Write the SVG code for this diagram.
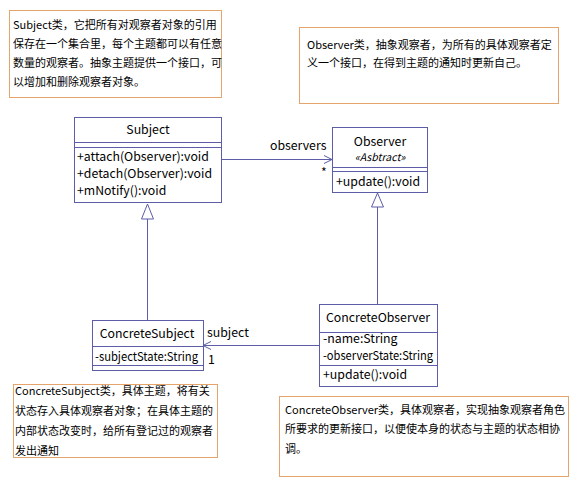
<svg xmlns="http://www.w3.org/2000/svg" width="581" height="484" viewBox="0 0 581 484">
<style>
.note{fill:#fff;stroke:#e4a46c;stroke-width:1}
.cls{fill:#fff;stroke:#5c5ca8;stroke-width:1}
.sep{stroke:#5c5ca8;stroke-width:1}
.edge{stroke:#5c5ca8;stroke-width:1;fill:none}
.tri{fill:#fff;stroke:#5c5ca8;stroke-width:1}
.nt{font-family:"Noto Sans CJK SC","Noto Sans",sans-serif;font-size:11px;fill:#000}
.ct{font-family:"Noto Sans CJK SC","Noto Sans",sans-serif;font-size:12.3px;fill:#000}
.mid{text-anchor:middle}
.st{font-family:"Noto Sans CJK SC","Noto Sans",sans-serif;font-size:10.5px;font-style:italic;fill:#000}
</style>
<rect width="581" height="484" fill="#fff"/>
<g id="note-subject">
<rect class="note" x="9.5" y="10.5" width="212" height="87"/>
<text class="nt" x="13" y="29">Subject类，它把所有对观察者对象的引用</text>
<text class="nt" x="13" y="48">保存在一个集合里，每个主题都可以有任意</text>
<text class="nt" x="13" y="67">数量的观察者。抽象主题提供一个接口，可</text>
<text class="nt" x="13" y="86">以增加和删除观察者对象。</text>
</g>
<g id="note-observer">
<rect class="note" x="299.5" y="27.5" width="259" height="76"/>
<text class="nt" x="307" y="49">Observer类，抽象观察者，为所有的具体观察者定</text>
<text class="nt" x="307" y="67">义一个接口，在得到主题的通知时更新自己。</text>
</g>
<g id="note-concretesubject">
<rect class="note" x="13.5" y="384.5" width="204" height="73"/>
<text class="nt" x="15" y="395">ConcreteSubject类，具体主题，将有关</text>
<text class="nt" x="15" y="415">状态存入具体观察者对象；在具体主题的</text>
<text class="nt" x="15" y="435">内部状态改变时，给所有登记过的观察者</text>
<text class="nt" x="15" y="455">发出通知</text>
</g>
<g id="note-concreteobserver">
<rect class="note" x="279.5" y="396.5" width="289" height="80"/>
<text class="nt" x="285" y="414">ConcreteObserver类，具体观察者，实现抽象观察者角色</text>
<text class="nt" x="285" y="433">所要求的更新接口，以便使本身的状态与主题的状态相协</text>
<text class="nt" x="285" y="453">调。</text>
</g>
<g id="connectors">
<line class="edge" x1="221" y1="159.5" x2="332" y2="159.5"/>
<polyline class="edge" points="324,155.5 332,159.5 324,163.5"/>
<text class="ct" x="270" y="150">observers</text>
<text class="ct" x="321" y="177">*</text>
<line class="edge" x1="147.5" y1="219" x2="147.5" y2="320"/>
<polygon class="tri" points="147.5,204 141.5,219 153.5,219"/>
<line class="edge" x1="377.5" y1="207" x2="377.5" y2="304"/>
<polygon class="tri" points="377.5,193 371.5,207 383.5,207"/>
<line class="edge" x1="203" y1="345.5" x2="319" y2="345.5"/>
<polyline class="edge" points="211,341.5 203,345.5 211,349.5"/>
<text class="ct" x="207" y="337">subject</text>
<text class="ct" x="208" y="364">1</text>
</g>
<g id="Subject">
<rect class="cls" x="74.5" y="117.5" width="147" height="85"/>
<text class="ct mid" x="148" y="134">Subject</text>
<line class="sep" x1="74.5" y1="142.5" x2="221.5" y2="142.5"/>
<line class="sep" x1="74.5" y1="147.5" x2="221.5" y2="147.5"/>
<text class="ct" x="77" y="161">+attach(Observer):void</text>
<text class="ct" x="77" y="178">+detach(Observer):void</text>
<text class="ct" x="77" y="195">+mNotify():void</text>
</g>
<g id="Observer">
<rect class="cls" x="332.5" y="127.5" width="95" height="65"/>
<text class="ct mid" x="380" y="146">Observer</text>
<text class="st mid" x="380" y="161">«Asbtract»</text>
<line class="sep" x1="332.5" y1="167.5" x2="427.5" y2="167.5"/>
<line class="sep" x1="332.5" y1="171.5" x2="427.5" y2="171.5"/>
<text class="ct" x="336" y="186">+update():void</text>
</g>
<g id="ConcreteSubject">
<rect class="cls" x="92.5" y="320.5" width="111" height="50"/>
<text class="ct mid" x="147" y="338">ConcreteSubject</text>
<line class="sep" x1="92.5" y1="346.5" x2="203.5" y2="346.5"/>
<text class="ct" x="95" y="361" textLength="103" lengthAdjust="spacingAndGlyphs">-subjectState:String</text>
<line class="sep" x1="92.5" y1="365.5" x2="203.5" y2="365.5"/>
</g>
<g id="ConcreteObserver">
<rect class="cls" x="319.5" y="304.5" width="118" height="82"/>
<text class="ct mid" x="378" y="322">ConcreteObserver</text>
<line class="sep" x1="319.5" y1="332.5" x2="437.5" y2="332.5"/>
<text class="ct" x="323" y="342.5">-name:String</text>
<text class="ct" x="323" y="359.5" textLength="110" lengthAdjust="spacingAndGlyphs">-observerState:String</text>
<line class="sep" x1="319.5" y1="365.5" x2="437.5" y2="365.5"/>
<text class="ct" x="323" y="379">+update():void</text>
</g>
</svg>
